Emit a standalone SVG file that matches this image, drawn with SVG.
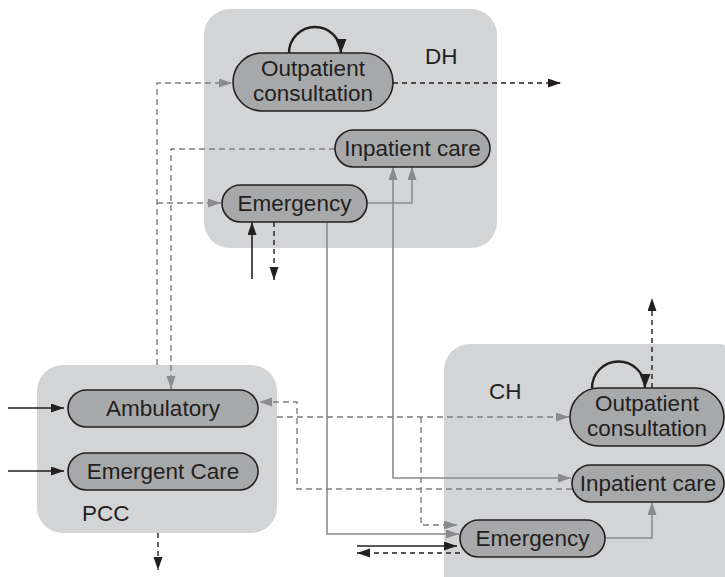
<svg xmlns="http://www.w3.org/2000/svg" width="725" height="577" viewBox="0 0 725 577">
<defs>
<style>
.box{fill:#d3d4d6;stroke:none}
.node{fill:#a7a8aa;stroke:#231f20;stroke-width:1.6}
.t{font-family:"Liberation Sans",Arial,sans-serif;font-size:22.5px;fill:#231f20;text-anchor:middle}
.lbl{font-family:"Liberation Sans",Arial,sans-serif;font-size:22.5px;fill:#231f20}
.g{fill:none;stroke:#8a8b8d;stroke-width:1.6}
.gd{fill:none;stroke:#7d7e80;stroke-width:1.4;stroke-dasharray:6 4}
.k{fill:none;stroke:#231f20;stroke-width:1.6}
.kd{fill:none;stroke:#231f20;stroke-width:1.4;stroke-dasharray:5 4}
.loop{fill:none;stroke:#231f20;stroke-width:2.4}
</style>
<marker id="ag" markerUnits="userSpaceOnUse" markerWidth="14" markerHeight="10" refX="13" refY="4.5" orient="auto-start-reverse"><path d="M0,0 L13,4.5 L0,9 z" fill="#8a8b8d"/></marker>
<marker id="ak" markerUnits="userSpaceOnUse" markerWidth="14" markerHeight="10" refX="13" refY="4.5" orient="auto"><path d="M0,0 L13,4.5 L0,9 z" fill="#231f20"/></marker>
<marker id="al" markerUnits="userSpaceOnUse" markerWidth="16" markerHeight="12" refX="14" refY="5.5" orient="auto"><path d="M0,0 L14,5.5 L0,11 z" fill="#231f20"/></marker>
</defs>
<rect class="box" x="204" y="9" width="293" height="239" rx="26"/>
<rect class="box" x="37" y="365" width="240" height="168" rx="26"/>
<rect class="box" x="444" y="344" width="300" height="260" rx="26"/>
<text class="lbl" x="425" y="64">DH</text>
<text class="lbl" x="82" y="521">PCC</text>
<text class="lbl" x="489" y="399">CH</text>
<g id="connectors">
<path class="loop" d="M289,53 A26,26 0 0 1 341,53" marker-end="url(#al)"/>
<path class="kd" d="M393,83 H561" marker-end="url(#ak)"/>
<path class="g" d="M367,203 H412 V167" marker-end="url(#ag)"/>
<path class="g" d="M571,478 H393 V167" marker-start="url(#ag)" marker-end="url(#ag)"/>
<path class="g" d="M327,222 V534 H459" marker-end="url(#ag)"/>
<path class="k" d="M252,279 V222" marker-end="url(#ak)"/>
<path class="kd" d="M274,222 V280" marker-end="url(#ak)"/>
<path class="gd" d="M157,365 V83 H232" marker-end="url(#ag)"/>
<path class="gd" d="M157,203 H221" marker-end="url(#ag)"/>
<path class="gd" d="M335,149 H171 V389" marker-end="url(#ag)"/>
<path class="gd" d="M572,489 H297 V402 H259" marker-end="url(#ag)"/>
<path class="gd" d="M277,417 H569" marker-end="url(#ag)"/>
<path class="gd" d="M421,417 V525 H457" marker-end="url(#ag)"/>
<path class="k" d="M8,408 H64" marker-end="url(#ak)"/>
<path class="k" d="M8,471 H64" marker-end="url(#ak)"/>
<path class="kd" d="M158,533 V570" marker-end="url(#ak)"/>
<path class="k" d="M357,546 H457" marker-end="url(#ak)"/>
<path class="kd" d="M460,553 H357" marker-end="url(#ak)"/>
<path class="g" d="M605,538 H652 V502" marker-end="url(#ag)"/>
<path class="loop" d="M592,388 A26.5,26.5 0 0 1 645,388" marker-end="url(#al)"/>
<path class="kd" d="M652,388 V298" marker-end="url(#ak)"/>
</g>
<g id="dh-outpatient">
<rect class="node" x="233" y="53" width="160" height="58" rx="29"/>
<text class="t" x="313" y="76">Outpatient</text>
<text class="t" x="313" y="101">consultation</text>
</g>
<g id="dh-inpatient">
<rect class="node" x="335" y="130" width="155" height="37" rx="18.5"/>
<text class="t" x="412.5" y="156">Inpatient care</text>
</g>
<g id="dh-emergency">
<rect class="node" x="222" y="185" width="145" height="37" rx="18.5"/>
<text class="t" x="294.5" y="211">Emergency</text>
</g>
<g id="pcc-ambulatory">
<rect class="node" x="68" y="390" width="190" height="37" rx="18.5"/>
<text class="t" x="163" y="416">Ambulatory</text>
</g>
<g id="pcc-emergent">
<rect class="node" x="68" y="453" width="190" height="37" rx="18.5"/>
<text class="t" x="163" y="479">Emergent Care</text>
</g>
<g id="ch-outpatient">
<rect class="node" x="570" y="388" width="154" height="58" rx="29"/>
<text class="t" x="647" y="411">Outpatient</text>
<text class="t" x="647" y="436">consultation</text>
</g>
<g id="ch-inpatient">
<rect class="node" x="572" y="465" width="152" height="37" rx="18.5"/>
<text class="t" x="648" y="491">Inpatient care</text>
</g>
<g id="ch-emergency">
<rect class="node" x="460" y="520" width="145" height="37" rx="18.5"/>
<text class="t" x="532.5" y="546">Emergency</text>
</g>
</svg>
